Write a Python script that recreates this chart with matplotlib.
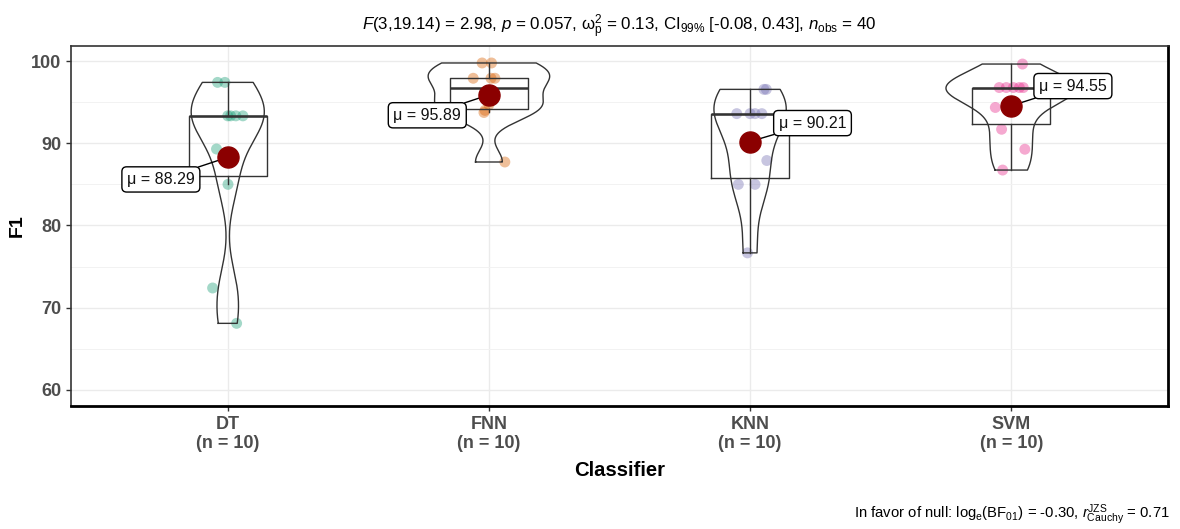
import matplotlib
matplotlib.use('Agg')
import numpy as np
import matplotlib.pyplot as plt

plt.rcParams['font.family'] = ['Liberation Sans', 'DejaVu Sans']
plt.rcParams['mathtext.fontset'] = 'custom'
plt.rcParams['mathtext.rm'] = 'Liberation Sans'
plt.rcParams['mathtext.it'] = 'Liberation Sans:italic'
plt.rcParams['mathtext.bf'] = 'Liberation Sans:bold'

# F1-verdier per klassifikator (lest av bildet)
classifiers = ["DT", "FNN", "KNN", "SVM"]
f1_dt = [97.4, 97.4, 93.33, 93.33, 93.33, 93.33, 89.3, 85.0, 72.4, 68.1]
f1_fnn = [99.76, 99.76, 97.9, 97.9, 97.9, 95.5, 94.7, 94.0, 93.74, 87.72]
f1_knn = [96.55, 96.55, 93.6, 93.6, 93.6, 93.6, 87.9, 85.0, 85.0, 76.67]
f1_svm = [99.63, 96.77, 96.77, 96.77, 96.77, 96.77, 94.35, 91.7, 89.27, 86.74]
groups = [f1_dt, f1_fnn, f1_knn, f1_svm]

# jitter (i kategori-enheter) og plassering av mu-etikettene
jitter = [
    [-0.039, -0.011, 0.011, 0.058, 0.0, 0.031, -0.043, 0.001, -0.058, 0.034],
    [-0.026, 0.010, -0.060, 0.023, 0.008, 0.0, 0.0, -0.015, -0.019, 0.061],
    [0.062, 0.053, -0.051, 0.045, 0.0, 0.019, 0.064, -0.045, 0.019, -0.010],
    [0.043, -0.046, -0.019, 0.008, 0.031, 0.046, -0.061, -0.037, 0.052, -0.033],
]
label_dx = [-0.256, -0.236, 0.239, 0.236]
label_y = [85.6, 93.4, 92.45, 96.95]

colors = ["#1B9E77", "#D95F02", "#7570B3", "#E7298A"]

title = (r"$\mathit{F}$(3,19.14) = 2.98, $\mathit{p}$ = 0.057, "
         r"$\mathrm{\omega}_{\mathrm{p}}^{2}$ = 0.13, CI$_{99\%}$ [-0.08, 0.43], "
         r"$\mathit{n}_{\mathrm{obs}}$ = 40")
caption = (r"In favor of null: $\mathrm{log}_{\mathrm{e}}$($\mathrm{BF}_{01}$) = -0.30, "
           r"$\mathit{r}_{\mathrm{Cauchy}}^{\mathrm{JZS}}$ = 0.71")


# tetthet som i R sin density() med bw.nrd0, trimmet til dataomraadet
def r_density(x, n=512):
    x = np.asarray(x, dtype=float)
    q75, q25 = np.percentile(x, [75, 25])
    lo = min(np.std(x, ddof=1), (q75 - q25) / 1.34)
    bw = 0.9 * lo * len(x) ** -0.2
    grid = np.linspace(x.min(), x.max(), n)
    dens = np.exp(-0.5 * ((grid[:, None] - x[None, :]) / bw) ** 2).sum(1)
    dens /= len(x) * bw * np.sqrt(2 * np.pi)
    return grid, dens


fig = plt.figure(figsize=(11.8, 5.29), dpi=100)
ax = fig.add_axes([0.0602, 0.2325, 0.9296, 0.6811])

positions = np.arange(1, len(classifiers) + 1)

# punkter
for pos, vals, jit, col in zip(positions, groups, jitter, colors):
    ax.scatter(pos + np.array(jit), vals, s=62, color=col, alpha=0.4,
               edgecolors='none', zorder=2)

# boksplott
ax.boxplot(groups, positions=positions, widths=0.3, whis=1.5, showfliers=False,
           showcaps=False,
           boxprops=dict(color='#333333', lw=1),
           whiskerprops=dict(color='#333333', lw=1),
           medianprops=dict(color='#333333', lw=1.8),
           zorder=3)

# fioliner (scale = "area", width = 0.5)
dens_all = [r_density(v) for v in groups]
dmax = max(d.max() for _, d in dens_all)
for pos, (grid, dens) in zip(positions, dens_all):
    w = dens / dmax * 0.25
    xs = np.concatenate([pos - w, (pos + w)[::-1], [pos - w[0]]])
    ys = np.concatenate([grid, grid[::-1], [grid[0]]])
    ax.plot(xs, ys, color='#333333', lw=1, zorder=3)

# gjennomsnitt med etikett
for pos, vals, dx, ly in zip(positions, groups, label_dx, label_y):
    m = np.mean(vals)
    ax.scatter([pos], [m], s=230, color='#8B0000', zorder=6)
    ax.annotate(f"μ = {m:.2f}", xy=(pos, m), xytext=(pos + dx, ly),
                ha='center', va='center', fontsize=11.5, color='#111111',
                bbox=dict(boxstyle='round,pad=0.32,rounding_size=0.3',
                          fc='white', ec='black', lw=1),
                arrowprops=dict(arrowstyle='-', color='black', lw=1,
                                shrinkA=0, shrinkB=0),
                zorder=5)

ax.set_xlim(0.4, 4.6)
ax.set_ylim(58.05, 101.86)
ax.set_xticks(positions)
ax.set_xticklabels([f"{c}\n(n = {len(v)})" for c, v in zip(classifiers, groups)],
                   fontweight='bold')
ax.set_yticks([60, 70, 80, 90, 100])
ax.set_yticks([65, 75, 85, 95], minor=True)
for lab in ax.get_yticklabels():
    lab.set_fontweight('bold')
ax.tick_params(axis='both', which='major', length=3.5, width=1, color='#333333',
               labelcolor='#4D4D4D', labelsize=13)
ax.tick_params(axis='y', which='minor', length=0)

ax.grid(which='major', color='#EBEBEB', lw=1)
ax.grid(which='minor', axis='y', color='#F2F2F2', lw=0.7)
ax.set_axisbelow(True)

for side in ['left', 'top']:
    ax.spines[side].set_color('#333333')
    ax.spines[side].set_linewidth(1.2)
for side in ['bottom', 'right']:
    ax.spines[side].set_color('black')
    ax.spines[side].set_linewidth(2)

ax.set_xlabel("Classifier", fontsize=14.6, fontweight='bold', labelpad=6)
ax.set_ylabel("F1", fontsize=14, fontweight='bold', labelpad=4)
ax.set_title(title, fontsize=12.2, pad=11)
fig.text(0.9915, 0.027, caption, ha='right', va='center', fontsize=10.7)

fig.savefig("out.png", dpi=100)
